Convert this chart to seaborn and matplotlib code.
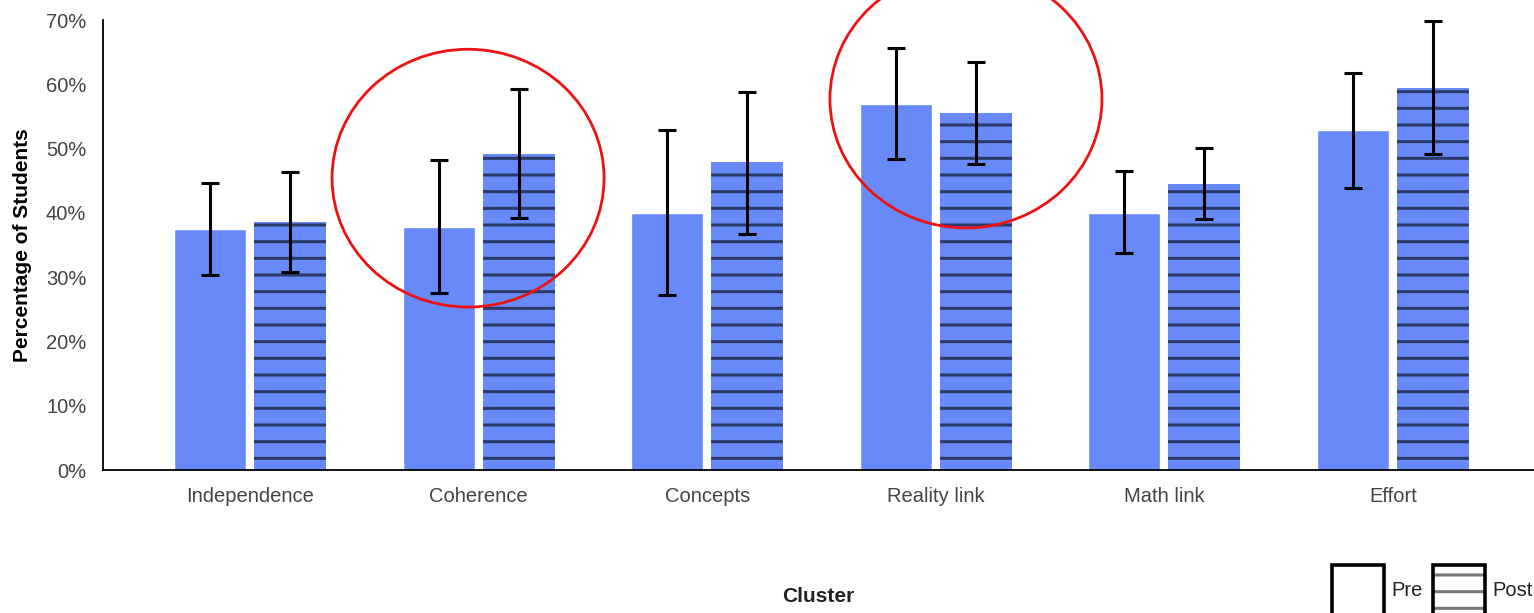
import matplotlib
matplotlib.use("Agg")
import matplotlib.pyplot as plt
from matplotlib.patches import Ellipse, Rectangle
from matplotlib.ticker import FixedLocator
import seaborn as sns
import pandas as pd

# Cluster scores (percentage of students), pre and post, with error bar ends
clusters = ["Independence", "Coherence", "Concepts", "Reality link", "Math link", "Effort"]
pre_values = [37.5, 37.8, 40.0, 56.9, 40.0, 52.9]
pre_upper = [44.6, 48.2, 52.9, 65.6, 46.5, 61.7]
pre_lower = [30.3, 27.5, 27.2, 48.4, 33.7, 43.9]
post_values = [38.6, 49.1, 47.9, 55.5, 44.5, 59.4]
post_upper = [46.3, 59.3, 58.8, 63.5, 50.1, 69.8]
post_lower = [30.8, 39.2, 36.7, 47.6, 39.0, 49.1]
phases = ["Pre", "Post"]
y_ticks = [0, 10, 20, 30, 40, 50, 60, 70]

# Clusters highlighted with red rings: (cluster, horizontal shift, ring centre in %)
highlighted = ["Coherence", "Reality link"]
ring_shift = [-0.046, 0.132]
ring_center_pct = [45.4, 57.7]

BAR_BLUE = "#6889f8"
HATCH_NAVY = "#2c3a6a"

sns.set_theme(style="white")
plt.rcParams["font.family"] = ["Liberation Sans", "DejaVu Sans"]
plt.rcParams["hatch.linewidth"] = 2.2

df = pd.DataFrame({
    "Cluster": clusters * 2,
    "Phase": ["Pre"] * len(clusters) + ["Post"] * len(clusters),
    "Value": pre_values + post_values,
})

fig = plt.figure(figsize=(15.34, 6.13), dpi=100)
ax = fig.add_axes([103 / 1534, 1 - 470 / 613, 1 - 103 / 1534, 450 / 613])

sns.barplot(data=df, x="Cluster", y="Value", hue="Phase", hue_order=phases,
            order=clusters, palette=[BAR_BLUE, BAR_BLUE], saturation=1,
            width=0.7, gap=0.1, errorbar=None, legend=False, ax=ax)

# Horizontal stripes on the post bars
for bar in ax.containers[1]:
    bar.set_hatch("-")
    bar.set_edgecolor(HATCH_NAVY)
    bar.set_linewidth(0)

# Error bars centred on each bar
for container, vals, lo, hi in [
    (ax.containers[0], pre_values, pre_lower, pre_upper),
    (ax.containers[1], post_values, post_lower, post_upper),
]:
    xs = [b.get_x() + b.get_width() / 2 for b in container]
    yerr = [[v - l for v, l in zip(vals, lo)], [h - v for v, h in zip(vals, hi)]]
    ax.errorbar(xs, vals, yerr=yerr, fmt="none", ecolor="black",
                elinewidth=2.2, capsize=6.5, capthick=2.2, zorder=5)

# Red rings around highlighted clusters
for name, shift, cy in zip(highlighted, ring_shift, ring_center_pct):
    i = clusters.index(name)
    ring = Ellipse((i + shift, cy), 1.19, 40.1, fill=False, edgecolor="#ee1111",
                   linewidth=2, clip_on=False, zorder=6)
    ax.add_patch(ring)

ax.set_xlim(-0.643, 5.617)
ax.set_ylim(0, 70)
ax.set_yticks(y_ticks)
ax.set_yticklabels([f"{t}%" for t in y_ticks])
ax.xaxis.set_minor_locator(FixedLocator([-0.643]))

sns.despine(ax=ax)
for side in ["left", "bottom"]:
    ax.spines[side].set_color("black")
    ax.spines[side].set_linewidth(1.3)

ax.tick_params(axis="both", which="both", direction="out", length=7, width=1.3,
               color="black", labelsize=14.5, labelcolor="#444444")
ax.tick_params(axis="y", pad=5)
ax.tick_params(axis="x", pad=5)

ax.set_xlabel("Cluster", fontsize=15, fontweight="bold", color="#222222")
ax.xaxis.set_label_coords(0.5, -0.26)
ax.set_ylabel("Percentage of Students", fontsize=15, fontweight="bold",
              color="black", labelpad=10)

# Legend swatches at the bottom right
fx = lambda px: px / 1534
fy = lambda py: 1 - py / 613
pre_box = Rectangle((fx(1332), fy(613 + 4)), fx(52), 52 / 613, transform=fig.transFigure,
                    facecolor="white", edgecolor="black", linewidth=2.6, clip_on=False)
fig.add_artist(pre_box)
post_fill = Rectangle((fx(1433), fy(613 + 4)), fx(52), 52 / 613, transform=fig.transFigure,
                      facecolor="white", edgecolor="#777777", linewidth=0, hatch="-",
                      clip_on=False)
fig.add_artist(post_fill)
post_box = Rectangle((fx(1433), fy(613 + 4)), fx(52), 52 / 613, transform=fig.transFigure,
                     facecolor="none", edgecolor="black", linewidth=2.6, clip_on=False)
fig.add_artist(post_box)
fig.text(fx(1391), fy(591), phases[0], fontsize=14.5, color="#222222", va="center")
fig.text(fx(1492), fy(591), phases[1], fontsize=14.5, color="#222222", va="center")

fig.savefig("out.png", dpi=100)
